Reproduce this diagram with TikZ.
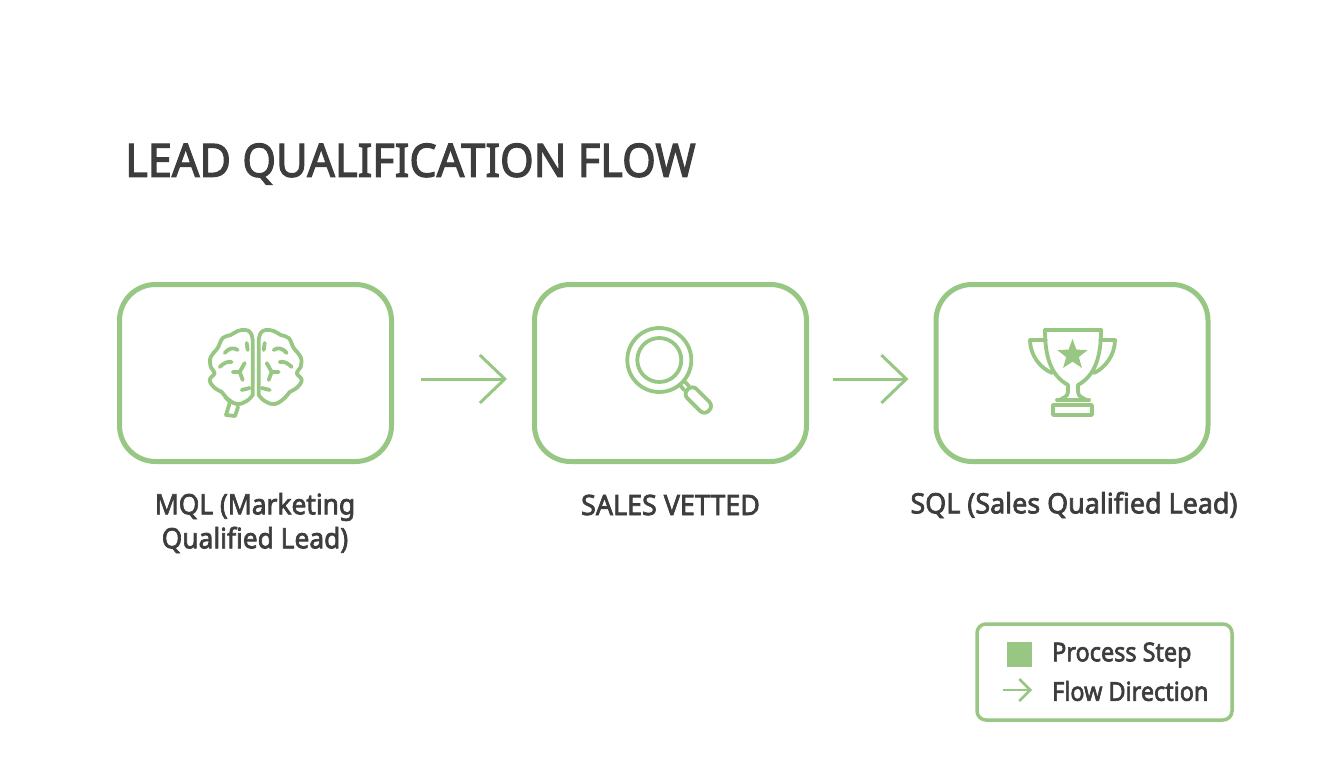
\documentclass[tikz,border=0pt]{standalone}
\usepackage{fontspec}
\setmainfont{Noto Sans}[FakeBold=2.6]
\usepackage{xcolor}
\usepackage{tikz}
\usetikzlibrary{arrows.meta,positioning,shapes.geometric}
\definecolor{leadgreen}{HTML}{98C784}
\definecolor{leadtext}{HTML}{3D3D3D}
\tikzset{
  stepbox/.style={draw=leadgreen,line width=5pt,rounded corners=36pt,minimum width=272pt,minimum height=177pt},
  steplabel/.style={text=leadtext,font=\fontsize{28}{34}\selectfont,align=center,inner sep=0pt,xscale=.96},
  flowarrow/.style={draw=leadgreen,line width=3pt,-{Straight Barb[length=25pt,width=48pt,line width=3pt]}},
  icon/.style={draw=leadgreen,line width=3.8pt,line cap=round,line join=round},
  legendtext/.style={text=leadtext,font=\fontsize{26}{30}\selectfont,inner sep=0pt,anchor=west,xscale=.9}
}
\begin{document}
\begin{tikzpicture}[x=1pt,y=-1pt]
        \useasboundingbox[fill=white] (0,0) rectangle (1344,768);

        \node[text=leadtext,font=\fontsize{46}{54}\selectfont,inner sep=0pt,anchor=west,xscale=.94] (title) at (125,164) {LEAD QUALIFICATION FLOW};

        \node[stepbox] (mql)    at (255.5,373) {};
        \node[stepbox] (vetted) at (670.5,373) {};
        \node[stepbox] (sql)    at (1072,373) {};

        \draw[flowarrow,shorten <=27pt,shorten >=25pt] (mql.east |- 0,379) coordinate (a1) -- (vetted.west |- 0,379) coordinate (a2);
        \draw[flowarrow,shorten <=24pt,shorten >=25pt] (vetted.east |- 0,379) coordinate (b1) -- (sql.west |- 0,379) coordinate (b2);

        \node[steplabel,xscale=.98] (mqltext)    at (255,523) {MQL (Marketing\\Qualified Lead)};
        \node[steplabel] (vettedtext) at (670.5,505) {SALES VETTED};
        \node[steplabel] (sqltext)    at (1074,505) {SQL (Sales Qualified Lead)};

        % brain
        \foreach \side in {1,-1} {
          \begin{scope}[shift={(255.7,0)},xscale=\side]
            \draw[icon] plot[smooth,tension=.7] coordinates {(3,340) (5,333) (10,330) (18,331) (25,335) (33,338) (38,348) (45,357) (45,367) (41,373) (46,380) (41,388) (34,392) (29,398) (19,404) (9,401) (3,395)} -- cycle;
            \draw[icon] (9,343) -- (8,350);
            \draw[icon] (18,350) .. controls (22,347) and (27,348) .. (31,353);
            \draw[icon] (24,362) .. controls (28,361) and (32,363) .. (36,367);
            \draw[icon] (11,363) -- (16,372) -- (23,372);
            \draw[icon] (16,372) -- (13,380);
            \draw[icon] (6,388) -- (14,390);
          \end{scope}
        }
        \draw[icon] (225,397) -- (230,402) -- (226,415) -- (235,416) -- (238,407);

        % magnifier
        \draw[icon] (659.3,360) circle (32pt);
        \draw[icon] (659.3,360) circle (22pt);
        \draw[icon] (680,385) -- (684,390);
        \draw[icon] (684,381) -- (689,386);
        \draw[icon,rounded corners=6pt,rotate around={-45:(698.3,400)}] (683.3,393.5) rectangle (713.3,406.5);

        % trophy
        \draw[icon] (1045,330) -- (1101,330);
        \draw[icon] (1045,330) .. controls (1045,355) and (1050,375) .. (1068,385) -- (1068,392) .. controls (1068,397) and (1062,398) .. (1060,400);
        \draw[icon] (1101,330) .. controls (1101,355) and (1096,375) .. (1078,385) -- (1078,392) .. controls (1078,397) and (1084,398) .. (1086,400);
        \draw[icon] (1057,400) -- (1089,400);
        \draw[icon] (1053,405) rectangle (1092,415);
        \draw[icon] (1046,340) -- (1030,340) .. controls (1030,355) and (1040,368) .. (1052,373);
        \draw[icon] (1100,340) -- (1115,340) .. controls (1115,355) and (1105,368) .. (1094,373);
        \node[star,star points=5,star point ratio=2.4,fill=leadgreen,inner sep=0pt,minimum size=32pt] (prize) at (1072.5,355) {};

        % legend
        \node[draw=leadgreen,line width=3.5pt,rounded corners=9pt,minimum width=255pt,minimum height=96pt] (legend) at (1104.5,672) {};
        \node[fill=leadgreen,minimum size=25pt,inner sep=0pt] (stepkey) at (1019.5,654.5) {};
        \node[legendtext] (steptext) at (1052,655) {Process Step};
        \node[legendtext] (flowtext) at (1052,691) {Flow Direction};
        \coordinate (keyfrom) at (1003,690);
        \coordinate (keyto) at (1032,690);
        \draw[draw=leadgreen,line width=2.5pt,-{Straight Barb[length=11pt,width=22pt,line width=2.5pt]}] (keyfrom) -- (keyto);
\end{tikzpicture}
\end{document}
